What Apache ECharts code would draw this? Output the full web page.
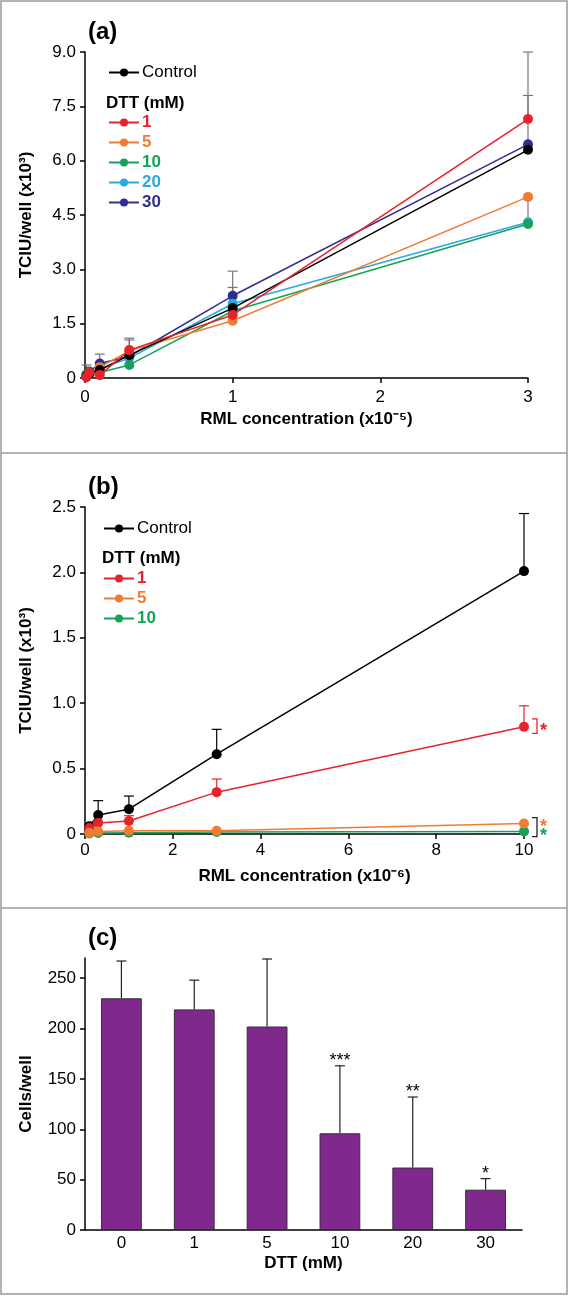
<!DOCTYPE html>
<html>
<head>
<meta charset="utf-8">
<script src="https://cdn.jsdelivr.net/npm/echarts@6/dist/echarts.min.js"></script>
<style>
html,body{margin:0;padding:0;background:#fff;}
#chart{width:569px;height:1296px;}
</style>
</head>
<body>
<div id="chart"></div>
<script>
// ---------- Panel (a) data ----------
const aX = [0.01, 0.03, 0.1, 0.3, 1, 3];
const aControl = [0.05, 0.12, 0.22, 0.63, 1.93, 6.30];
const aDtt1    = [0.02, 0.15, 0.08, 0.77, 1.74, 7.15];
const aDtt5    = [0.05, 0.12, 0.30, 0.75, 1.58, 5.00];
const aDtt10   = [0.08, 0.15, 0.15, 0.36, 1.85, 4.25];
const aDtt20   = [0.06, 0.10, 0.25, 0.55, 2.05, 4.30];
const aDtt30   = [0.10, 0.18, 0.40, 0.60, 2.27, 6.45];
// error bar tops (null = none drawn)
const aControlErr = [0.36, null, null, null, 2.50, 7.80];
const aDtt1Err    = [null, null, null, 1.10, null, 9.00];
const aDtt5Err    = [null, null, null, 1.05, null, null];
const aDtt20Err   = [null, null, null, null, null, 4.95];
const aDtt30Err   = [null, null, 0.66, null, 2.95, null];
const aYTicks = [0, 1.5, 3.0, 4.5, 6.0, 7.5, 9.0];

// ---------- Panel (b) data ----------
const bX = [0.1, 0.3, 1, 3, 10];
const bControl = [0.06, 0.145, 0.19, 0.61, 2.01];
const bDtt1    = [0.045, 0.085, 0.10, 0.32, 0.82];
const bDtt5    = [0.01, 0.02, 0.025, 0.025, 0.08];
const bDtt10   = [0.004, 0.008, 0.01, 0.015, 0.02];
const bControlErr = [null, 0.255, 0.29, 0.80, 2.45];
const bDtt1Err    = [null, null, 0.14, 0.42, 0.98];
// significance brackets at x = 10
const bSigX = 10;
const bSigLow  = [0.77, -0.02];
const bSigHigh = [0.88, 0.125];
const bStarY   = [0.82, 0.085, 0.015];

// ---------- Panel (c) data ----------
const cCats = ['0', '1', '5', '10', '20', '30'];
const cVals = [230, 219, 202, 96, 62, 40];
const cErr  = [267, 248, 269, 163, 132, 51];
const cSig  = ['', '', '', '***', '**', '*'];
const cYTicks = [0, 50, 100, 150, 200, 250];

// ---------- style ----------
const FONT = '"Liberation Sans", Arial, Helvetica, sans-serif';
const C = {control:'#000000', d1:'#e8222b', d5:'#f07c33', d10:'#15a259', d20:'#2aa9e0', d30:'#2e2f8e'};

const pair = (xs, ys) => xs.map((x, i) => [x, ys[i]]);
const errData = (xs, ys, tops) => xs.map((x, i) => tops[i] == null ? null : [x, ys[i], tops[i]]).filter(d => d);

function lineSeries(name, xs, ys, color, xi, z) {
  return {
    type: 'line', name: name, xAxisIndex: xi, yAxisIndex: xi,
    data: pair(xs, ys), symbol: 'circle', symbolSize: 10,
    lineStyle: {color: color, width: 1.5}, itemStyle: {color: color},
    z: z, animation: false
  };
}
function errSeries(xs, ys, tops, color, xi) {
  return {
    type: 'custom', xAxisIndex: xi, yAxisIndex: xi, z: 1, animation: false,
    data: errData(xs, ys, tops), encode: {x: 0, y: [1, 2]},
    renderItem: function (params, api) {
      const p0 = api.coord([api.value(0), api.value(1)]);
      const p1 = api.coord([api.value(0), api.value(2)]);
      return {type: 'group', children: [
        {type: 'line', shape: {x1: p0[0], y1: p0[1], x2: p1[0], y2: p1[1]}, style: {stroke: color, lineWidth: 1.2}},
        {type: 'line', shape: {x1: p1[0] - 5, y1: p1[1], x2: p1[0] + 5, y2: p1[1]}, style: {stroke: color, lineWidth: 1.2}}
      ]};
    }
  };
}

const axisLineStyle = {show: true, lineStyle: {color: '#000', width: 1.5}};
const tickStyle = {show: true, length: 5, lineStyle: {color: '#000', width: 1.5}};
const labelStyle = {color: '#000', fontSize: 17, fontFamily: FONT};
const nameStyle = {color: '#000', fontSize: 17, fontWeight: 'bold', fontFamily: FONT};
const fmt1 = v => (v === 0 ? '0' : v.toFixed(1));

const option = {
  animation: false,
  backgroundColor: '#fff',
  textStyle: {fontFamily: FONT},
  title: [
    {text: '(a)', left: 88, top: 20, padding: 0, textStyle: {fontSize: 24, fontWeight: 'bold', color: '#000', fontFamily: FONT}},
    {text: '(b)', left: 88, top: 475, padding: 0, textStyle: {fontSize: 24, fontWeight: 'bold', color: '#000', fontFamily: FONT}},
    {text: '(c)', left: 88, top: 926, padding: 0, textStyle: {fontSize: 24, fontWeight: 'bold', color: '#000', fontFamily: FONT}}
  ],
  grid: [
    {left: 85, right: 41, top: 52, height: 326},
    {left: 85, right: 45, top: 507, height: 327},
    {left: 85, right: 47, top: 958, height: 272}
  ],
  legend: [
    {data: ['Control'], left: 108, top: 64, orient: 'vertical', itemWidth: 30, itemHeight: 10, itemGap: 3, padding: 0,
     textStyle: {fontSize: 17, color: '#000', fontFamily: FONT, padding: [0, 0, 0, -2]}, selectedMode: false},
    {data: [
      {name: '1', textStyle: {color: C.d1}}, {name: '5', textStyle: {color: C.d5}},
      {name: '10', textStyle: {color: C.d10}}, {name: '20', textStyle: {color: C.d20}},
      {name: '30', textStyle: {color: C.d30}}],
     left: 108, top: 114, orient: 'vertical', itemWidth: 30, itemHeight: 10, itemGap: 3, padding: 0,
     textStyle: {fontSize: 17, fontWeight: 'bold', fontFamily: FONT, lineHeight: 16, padding: [0, 0, 0, -2]}, selectedMode: false},
    {data: ['Control'], left: 103, top: 520, orient: 'vertical', itemWidth: 30, itemHeight: 10, itemGap: 3, padding: 0,
     textStyle: {fontSize: 17, color: '#000', fontFamily: FONT, padding: [0, 0, 0, -2]}, selectedMode: false},
    {data: [
      {name: '1', textStyle: {color: C.d1}}, {name: '5', textStyle: {color: C.d5}},
      {name: '10', textStyle: {color: C.d10}}],
     left: 103, top: 570, orient: 'vertical', itemWidth: 30, itemHeight: 10, itemGap: 3, padding: 0,
     textStyle: {fontSize: 17, fontWeight: 'bold', fontFamily: FONT, lineHeight: 16, padding: [0, 0, 0, -2]}, selectedMode: false}
  ],
  xAxis: [
    {gridIndex: 0, type: 'value', min: 0, max: 3, interval: 1, axisLine: axisLineStyle, axisTick: tickStyle,
     axisLabel: Object.assign({margin: 11}, labelStyle), splitLine: {show: false},
     name: 'RML concentration (x10\u207B\u2075)', nameLocation: 'middle', nameGap: 33, nameTextStyle: nameStyle},
    {gridIndex: 1, type: 'value', min: 0, max: 10, interval: 2, axisLine: axisLineStyle, axisTick: tickStyle,
     axisLabel: Object.assign({margin: 8}, labelStyle), splitLine: {show: false},
     name: 'RML concentration (x10\u207B\u2076)', nameLocation: 'middle', nameGap: 34, nameTextStyle: nameStyle},
    {gridIndex: 2, type: 'category', data: cCats, axisLine: axisLineStyle, axisTick: {show: false},
     axisLabel: Object.assign({margin: 5}, labelStyle),
     name: 'DTT (mM)', nameLocation: 'middle', nameGap: 25, nameTextStyle: nameStyle}
  ],
  yAxis: [
    {gridIndex: 0, type: 'value', min: 0, max: 9, interval: 1.5, axisLine: axisLineStyle, axisTick: tickStyle,
     axisLabel: Object.assign({margin: 9, formatter: fmt1}, labelStyle), splitLine: {show: false},
     name: 'TCIU/well (x10\u00B3)', nameLocation: 'middle', nameGap: 50, nameTextStyle: nameStyle},
    {gridIndex: 1, type: 'value', min: 0, max: 2.5, interval: 0.5, axisLine: axisLineStyle, axisTick: tickStyle,
     axisLabel: Object.assign({margin: 9, formatter: fmt1}, labelStyle), splitLine: {show: false},
     name: 'TCIU/well (x10\u00B3)', nameLocation: 'middle', nameGap: 50, nameTextStyle: nameStyle},
    {gridIndex: 2, type: 'value', min: 0, max: 270, interval: 50, axisLine: axisLineStyle,
     axisTick: Object.assign({customValues: cYTicks}, tickStyle),
     axisLabel: Object.assign({margin: 9, customValues: cYTicks}, labelStyle), splitLine: {show: false},
     name: 'Cells/well', nameLocation: 'middle', nameGap: 50, nameTextStyle: nameStyle}
  ],
  graphic: [
    {type: 'rect', shape: {x: 1, y: 1, width: 566, height: 1293}, style: {fill: 'none', stroke: '#999', lineWidth: 1.5}, silent: true},
    {type: 'line', shape: {x1: 1, y1: 453, x2: 567, y2: 453}, style: {stroke: '#999', lineWidth: 1.5}, silent: true},
    {type: 'line', shape: {x1: 1, y1: 908, x2: 567, y2: 908}, style: {stroke: '#999', lineWidth: 1.5}, silent: true},
    {type: 'text', left: 106, top: 95, style: {text: 'DTT (mM)', fontSize: 17, fontWeight: 'bold', fill: '#000', font: 'bold 17px ' + FONT}},
    {type: 'text', left: 102, top: 550, style: {text: 'DTT (mM)', fontSize: 17, fontWeight: 'bold', fill: '#000', font: 'bold 17px ' + FONT}}
  ],
  series: [
    // panel a error bars
    errSeries(aX, aControl, aControlErr, '#777', 0),
    errSeries(aX, aDtt1, aDtt1Err, '#777', 0),
    errSeries(aX, aDtt5, aDtt5Err, '#777', 0),
    errSeries(aX, aDtt20, aDtt20Err, '#777', 0),
    errSeries(aX, aDtt30, aDtt30Err, '#777', 0),
    // panel a lines
    lineSeries('30', aX, aDtt30, C.d30, 0, 3),
    lineSeries('20', aX, aDtt20, C.d20, 0, 3),
    lineSeries('10', aX, aDtt10, C.d10, 0, 3),
    lineSeries('5', aX, aDtt5, C.d5, 0, 3),
    lineSeries('Control', aX, aControl, C.control, 0, 4),
    lineSeries('1', aX, aDtt1, C.d1, 0, 5),
    // panel b error bars
    errSeries(bX, bControl, bControlErr, '#000', 1),
    errSeries(bX, bDtt1, bDtt1Err, C.d1, 1),
    // panel b lines
    lineSeries('10', bX, bDtt10, C.d10, 1, 3),
    lineSeries('Control', bX, bControl, C.control, 1, 3),
    lineSeries('1', bX, bDtt1, C.d1, 1, 4),
    lineSeries('5', bX, bDtt5, C.d5, 1, 5),
    // panel b significance brackets
    {
      type: 'custom', xAxisIndex: 1, yAxisIndex: 1, z: 6, animation: false,
      data: bSigLow.map((lo, i) => [bSigX, lo, bSigHigh[i]]), encode: {x: 0, y: [1, 2]},
      renderItem: function (params, api) {
        const col = params.dataIndex === 0 ? C.d1 : '#222';
        const lo = api.coord([api.value(0), api.value(1)]);
        const hi = api.coord([api.value(0), api.value(2)]);
        const x0 = lo[0] + 8, x1 = lo[0] + 13;
        return {type: 'polyline', shape: {points: [[x0, hi[1]], [x1, hi[1]], [x1, lo[1]], [x0, lo[1]]]},
                style: {stroke: col, lineWidth: 1.3, fill: 'none'}};
      }
    },
    {
      type: 'custom', xAxisIndex: 1, yAxisIndex: 1, z: 6, animation: false,
      data: bStarY.map(y => [bSigX, y]), encode: {x: 0, y: 1},
      renderItem: function (params, api) {
        const cols = [C.d1, C.d5, C.d10];
        const p = api.coord([api.value(0), api.value(1)]);
        return {type: 'text', x: p[0] + 16, y: p[1] + 4,
                style: {text: '*', fill: cols[params.dataIndex], font: 'bold 18px ' + FONT, textAlign: 'left', textVerticalAlign: 'middle'}};
      }
    },
    // panel c bars
    {
      type: 'bar', xAxisIndex: 2, yAxisIndex: 2, data: cVals, barWidth: '56%',
      itemStyle: {color: '#80298d', borderColor: '#3b2a40', borderWidth: 1}, z: 2, animation: false
    },
    // panel c error bars + significance
    {
      type: 'custom', xAxisIndex: 2, yAxisIndex: 2, z: 1, animation: false,
      data: cVals.map((v, i) => [i, v, cErr[i]]), encode: {x: 0, y: [1, 2]},
      renderItem: function (params, api) {
        const p0 = api.coord([api.value(0), api.value(1)]);
        const p1 = api.coord([api.value(0), api.value(2)]);
        const kids = [
          {type: 'line', shape: {x1: p0[0], y1: p0[1], x2: p1[0], y2: p1[1]}, style: {stroke: '#222', lineWidth: 1.2}},
          {type: 'line', shape: {x1: p1[0] - 5, y1: p1[1], x2: p1[0] + 5, y2: p1[1]}, style: {stroke: '#222', lineWidth: 1.2}}
        ];
        const s = cSig[params.dataIndex];
        if (s) kids.push({type: 'text', x: p1[0], y: p1[1] + 4,
          style: {text: s, fill: '#000', font: '18px ' + FONT, textAlign: 'center', textVerticalAlign: 'bottom'}});
        return {type: 'group', children: kids};
      }
    }
  ]
};

const chart = echarts.init(document.getElementById('chart'), null, {renderer: 'canvas'});
chart.setOption(option);
</script>
</body>
</html>
